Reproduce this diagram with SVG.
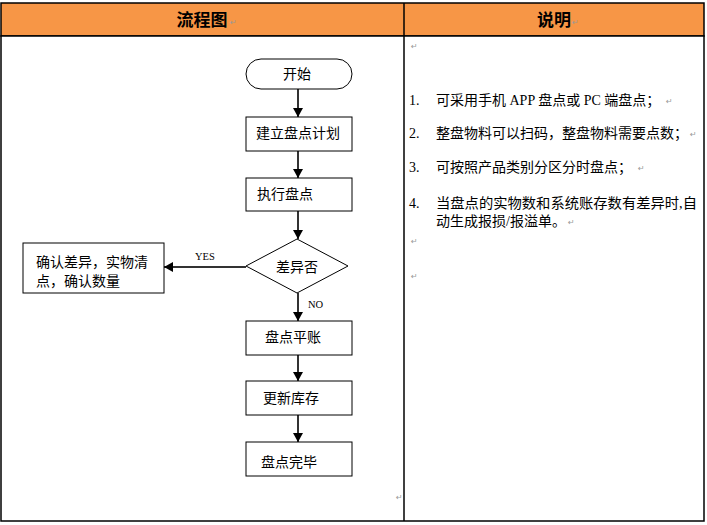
<svg xmlns="http://www.w3.org/2000/svg" width="707" height="525" viewBox="0 0 707 525">
<style>
.cell{fill:#ffffff;stroke:#000;stroke-width:1.5}
.head{fill:#F79646;stroke:#000;stroke-width:1.5}
.ht{font-family:"Noto Sans CJK SC","Liberation Sans",sans-serif;font-weight:bold;font-size:17px;fill:#000;text-anchor:middle}
.box{fill:#fff;stroke:#000;stroke-width:1}
.t{font-family:"Liberation Serif","Noto Sans CJK SC",serif;font-size:14px;fill:#000}
.lbl{font-family:"Liberation Serif",serif;font-size:10.5px;fill:#000}
.pm{font-family:"DejaVu Sans",sans-serif;font-size:8px;fill:#999}
.conn line{stroke:#333;stroke-width:2}
</style>
<defs>
<marker id="ah" markerWidth="10" markerHeight="10" refX="9" refY="5" orient="auto" markerUnits="userSpaceOnUse">
<path d="M0,0 L9,5 L0,10 Z" fill="#000"/>
</marker>
</defs>
<rect width="707" height="525" fill="#fff"/>
<g id="table">
<rect class="head" x="1" y="3" width="703" height="33"/>
<rect class="cell" x="1" y="36" width="703" height="485"/>
<line x1="404" y1="3" x2="404" y2="521" stroke="#000" stroke-width="1.5"/>
<text class="ht" x="202" y="26">流程图</text>
<text class="ht" x="554" y="26">说明</text>
<text class="pm" x="230" y="25">↵</text>
<text class="pm" x="572" y="25">↵</text>
<text class="pm" x="411" y="49">↵</text>
<text class="pm" x="396" y="500">↵</text>
</g>
<g id="notes">
<text class="t" x="409" y="105">1.</text>
<text class="t" x="436" y="105">可采用手机 APP 盘点或 PC 端盘点；</text>
<text class="pm" x="666" y="104">↵</text>
<text class="t" x="409" y="138">2.</text>
<text class="t" x="436" y="138">整盘物料可以扫码，整盘物料需要点数；</text>
<text class="pm" x="690" y="137">↵</text>
<text class="t" x="409" y="172">3.</text>
<text class="t" x="436" y="172">可按照产品类别分区分时盘点；</text>
<text class="pm" x="638" y="171">↵</text>
<text class="t" x="409" y="208">4.</text>
<text class="t" x="436" y="208" textLength="261" lengthAdjust="spacingAndGlyphs">当盘点的实物数和系统账存数有差异时,自</text>
<text class="t" x="436" y="226">动生成报损/报溢单。</text>
<text class="pm" x="568" y="225">↵</text>
<text class="pm" x="411" y="244">↵</text>
<text class="pm" x="411" y="279">↵</text>
</g>
<g id="connectors" class="conn">
<line x1="298" y1="89" x2="298" y2="117" marker-end="url(#ah)"/>
<line x1="298" y1="151" x2="298" y2="178" marker-end="url(#ah)"/>
<line x1="298" y1="211" x2="298" y2="239" marker-end="url(#ah)"/>
<line x1="246" y1="267" x2="164" y2="267" marker-end="url(#ah)"/>
<line x1="298" y1="293" x2="298" y2="321" marker-end="url(#ah)"/>
<line x1="298" y1="355" x2="298" y2="381" marker-end="url(#ah)"/>
<line x1="298" y1="415" x2="298" y2="442" marker-end="url(#ah)"/>
<text class="lbl" x="195" y="260">YES</text>
<text class="lbl" x="308" y="308">NO</text>
</g>
<g id="start">
<rect class="box" x="246" y="59" width="106" height="30" rx="15" ry="15"/>
<text class="t" x="283" y="79">开始</text>
</g>
<g id="plan">
<rect class="box" x="246" y="117" width="106" height="34"/>
<text class="t" x="256" y="138">建立盘点计划</text>
</g>
<g id="execute">
<rect class="box" x="246" y="178" width="106" height="33"/>
<text class="t" x="257" y="199">执行盘点</text>
</g>
<g id="decision">
<polygon class="box" points="297,239 348,266 297,293 246,266"/>
<text class="t" x="276" y="272">差异否</text>
</g>
<g id="confirm">
<rect class="box" x="23" y="243" width="141" height="50"/>
<text class="t" x="36" y="267">确认差异，实物清</text>
<text class="t" x="36" y="286">点，确认数量</text>
</g>
<g id="balance">
<rect class="box" x="246" y="321" width="106" height="34"/>
<text class="t" x="265" y="342">盘点平账</text>
</g>
<g id="update">
<rect class="box" x="246" y="381" width="106" height="34"/>
<text class="t" x="263" y="403">更新库存</text>
</g>
<g id="finish">
<rect class="box" x="246" y="442" width="106" height="34"/>
<text class="t" x="261" y="467">盘点完毕</text>
</g>
</svg>
